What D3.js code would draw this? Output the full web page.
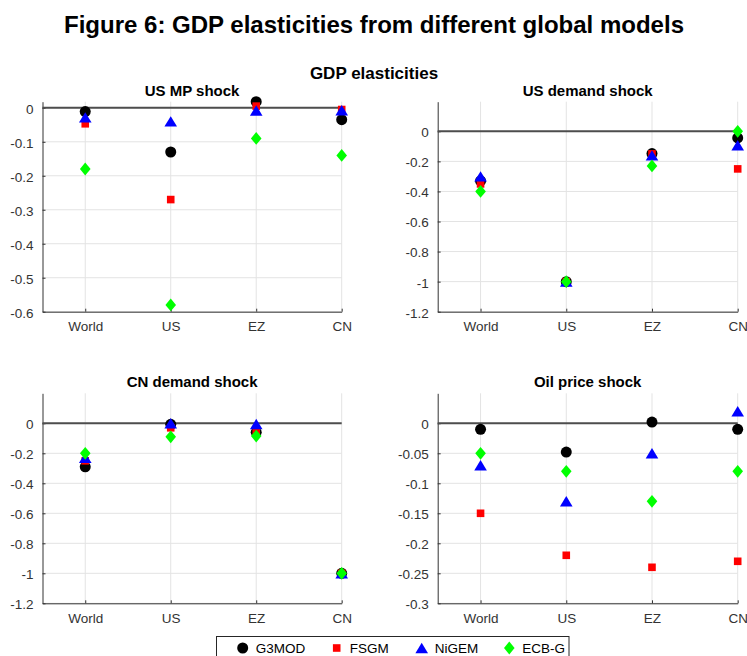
<!DOCTYPE html>
<html>
<head>
<meta charset="utf-8">
<script src="https://cdn.jsdelivr.net/npm/d3@7"></script>
<style>
  html, body { margin: 0; padding: 0; background: #fff; }
  svg { display: block; font-family: "Liberation Sans", Arial, Helvetica, sans-serif; }
</style>
</head>
<body>
<svg id="chart" width="747" height="656"></svg>
<script>
// Categories and series
const regions = ["World", "US", "EZ", "CN"];
const models = ["G3MOD", "FSGM", "NiGEM", "ECB-G"];
const shockTitles = ["US MP shock", "US demand shock", "CN demand shock", "Oil price shock"];

// GDP elasticities, one row per model (G3MOD, FSGM, NiGEM, ECB-G), columns World, US, EZ, CN
const usMpShock = [
  [-0.011, -0.13, 0.018, -0.035],
  [-0.047, -0.27, 0.005, -0.005],
  [-0.028, -0.04, -0.008, -0.007],
  [-0.18, -0.58, -0.09, -0.14]
];
const usDemandShock = [
  [-0.33, -1.0, -0.148, -0.044],
  [-0.35, -1.0, -0.15, -0.25],
  [-0.30, -1.0, -0.16, -0.093],
  [-0.40, -1.0, -0.23, 0.0]
];
const cnDemandShock = [
  [-0.29, -0.007, -0.06, -1.0],
  [-0.25, -0.03, -0.05, -1.0],
  [-0.23, 0.0, -0.005, -1.0],
  [-0.20, -0.09, -0.085, -1.0]
];
const oilPriceShock = [
  [-0.01, -0.048, 0.002, -0.01],
  [-0.15, -0.22, -0.24, -0.23],
  [-0.07, -0.13, -0.05, 0.02],
  [-0.05, -0.08, -0.13, -0.08]
];

// Y-axis limits and tick labels for each panel
const yLimits = [[-0.6, 0.018], [-1.2, 0.197], [-1.2, 0.2], [-0.3, 0.05]];
const yTicks = [
  [-0.6, -0.5, -0.4, -0.3, -0.2, -0.1, 0],
  [-1.2, -1, -0.8, -0.6, -0.4, -0.2, 0],
  [-1.2, -1, -0.8, -0.6, -0.4, -0.2, 0],
  [-0.3, -0.25, -0.2, -0.15, -0.1, -0.05, 0]
];

const panelData = [usMpShock, usDemandShock, cnDemandShock, oilPriceShock];

// Marker shapes drawn in a fixed pixel box (width, height)
const circleMarker = {
  draw(ctx) { ctx.moveTo(5.5, 0); ctx.arc(0, 0, 5.5, 0, 2 * Math.PI); ctx.closePath(); }
};
const squareMarker = {
  draw(ctx) { const s = 3.8; ctx.rect(-s, -s, 2 * s, 2 * s); }
};
const triangleMarker = {
  draw(ctx) { const w = 6.3, h = 5.2; ctx.moveTo(0, -h); ctx.lineTo(w, h); ctx.lineTo(-w, h); ctx.closePath(); }
};
const diamondMarker = {
  draw(ctx) { const w = 5.3, h = 6.4; ctx.moveTo(0, -h); ctx.lineTo(w, 0); ctx.lineTo(0, h); ctx.lineTo(-w, 0); ctx.closePath(); }
};

const markerColors = ["#000000", "#ff0000", "#0000ff", "#00ff00"];
const markerShapes = [circleMarker, squareMarker, triangleMarker, diamondMarker];

const svg = d3.select("#chart");

// Figure title and super-title
svg.append("text")
  .attr("x", 374).attr("y", 33)
  .attr("text-anchor", "middle")
  .attr("font-size", 24).attr("font-weight", "bold")
  .attr("textLength", 620).attr("lengthAdjust", "spacingAndGlyphs")
  .attr("fill", "#000")
  .text("Figure 6: GDP elasticities from different global models");

svg.append("text")
  .attr("x", 374).attr("y", 79)
  .attr("text-anchor", "middle")
  .attr("font-size", 17).attr("font-weight", "bold")
  .attr("fill", "#000")
  .text("GDP elasticities");

// Panel frames
const panels = [
  { x0: 42.5, x1: 341.7, y0: 101.7, y1: 311.7 },
  { x0: 437.7, x1: 737.7, y0: 101.7, y1: 311.7 },
  { x0: 42.5, x1: 341.7, y0: 393.3, y1: 603.3 },
  { x0: 437.7, x1: 737.7, y0: 393.3, y1: 603.3 }
];

const fmt = v => (v === 0 ? "0" : String(+v.toFixed(2)));

panels.forEach((p, i) => {
  const g = svg.append("g");
  const x = d3.scaleLinear().domain([0.5, 4]).range([p.x0, p.x1]);
  const y = d3.scaleLinear().domain(yLimits[i]).range([p.y1, p.y0]);

  // grid lines
  g.selectAll(".gx").data(regions).join("line")
    .attr("x1", (d, j) => x(j + 1)).attr("x2", (d, j) => x(j + 1))
    .attr("y1", p.y0).attr("y2", p.y1)
    .attr("stroke", "#e3e3e3").attr("stroke-width", 1);
  g.selectAll(".gy").data(yTicks[i]).join("line")
    .attr("x1", p.x0).attr("x2", p.x1)
    .attr("y1", d => y(d)).attr("y2", d => y(d))
    .attr("stroke", "#e3e3e3").attr("stroke-width", 1);

  // y axis
  const yAxis = d3.axisLeft(y).tickValues(yTicks[i]).tickFormat(fmt).tickSizeInner(-3).tickSizeOuter(0).tickPadding(9);
  const ya = g.append("g").attr("transform", `translate(${p.x0},0)`).call(yAxis);
  ya.select(".domain").attr("stroke", "#333");
  ya.selectAll(".tick line").attr("stroke", "#333");
  ya.selectAll(".tick text").attr("fill", "#333").attr("font-size", 13.5).attr("dy", "0.4em")
    .attr("font-family", "\"Liberation Sans\", Arial, sans-serif");

  // x axis
  const xAxis = d3.axisBottom(x).tickValues([1, 2, 3, 4]).tickFormat((d) => regions[d - 1]).tickSizeInner(-3).tickSizeOuter(0).tickPadding(10);
  const xa = g.append("g").attr("transform", `translate(0,${p.y1})`).call(xAxis);
  xa.select(".domain").attr("stroke", "#333");
  xa.selectAll(".tick line").attr("stroke", "#333");
  xa.selectAll(".tick text").attr("fill", "#333").attr("font-size", 13.5)
    .attr("font-family", "\"Liberation Sans\", Arial, sans-serif");

  // zero reference line
  g.append("line")
    .attr("x1", p.x0).attr("x2", p.x1)
    .attr("y1", y(0)).attr("y2", y(0))
    .attr("stroke", "#4d4d4d").attr("stroke-width", 2);

  // panel title
  g.append("text")
    .attr("x", (p.x0 + p.x1) / 2).attr("y", p.y0 - 6)
    .attr("text-anchor", "middle")
    .attr("font-size", 15).attr("font-weight", "bold")
    .attr("fill", "#000")
    .text(shockTitles[i]);

  // markers, one series per model
  panelData[i].forEach((row, m) => {
    g.selectAll(null).data(row).join("path")
      .attr("transform", (d, j) => `translate(${x(j + 1)},${y(d)})`)
      .attr("d", d3.symbol().type(markerShapes[m]))
      .attr("fill", markerColors[m]);
  });
});

// Legend
const legend = svg.append("g");
legend.append("rect")
  .attr("x", 216.5).attr("y", 636.5).attr("width", 352.5).attr("height", 30)
  .attr("fill", "#fff").attr("stroke", "#262626").attr("stroke-width", 1);
const legendX = [242.7, 336.7, 421.7, 509.3];
models.forEach((name, m) => {
  legend.append("path")
    .attr("transform", `translate(${legendX[m]},648)`)
    .attr("d", d3.symbol().type(markerShapes[m]))
    .attr("fill", markerColors[m]);
  legend.append("text")
    .attr("x", legendX[m] + 13).attr("y", 653)
    .attr("font-size", 13.5).attr("fill", "#000")
    .text(name);
});
</script>
</body>
</html>
